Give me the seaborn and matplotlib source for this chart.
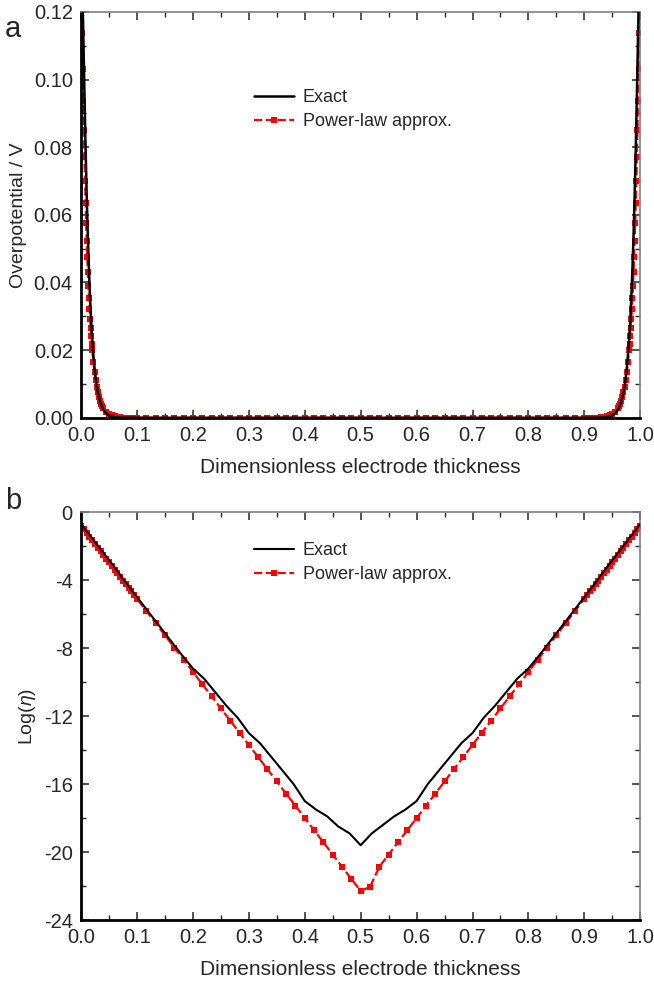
import matplotlib
matplotlib.use("Agg")
import matplotlib.pyplot as plt
import seaborn as sns
from matplotlib.ticker import MultipleLocator, FormatStrFormatter

# ---- panel a : overpotential (V) vs dimensionless thickness ----
# power-law approx, dense points near the two electrode faces
xa_left = [0.000, 0.001, 0.002, 0.003, 0.004, 0.005, 0.006, 0.007, 0.008, 0.009, 0.010,
           0.011, 0.012, 0.013, 0.014, 0.015, 0.016, 0.017, 0.018, 0.019, 0.020,
           0.022, 0.024, 0.026, 0.028, 0.030, 0.032, 0.034, 0.036, 0.038, 0.040,
           0.045, 0.050, 0.055, 0.060, 0.070, 0.080, 0.090, 0.100]
eta_approx_left = [0.1380, 0.1253, 0.1137, 0.1032, 0.0937, 0.0850, 0.0772, 0.0700, 0.0636, 0.0577, 0.0524,
                   0.0475, 0.0431, 0.0391, 0.0355, 0.0322, 0.0293, 0.0266, 0.0241, 0.0219, 0.0199,
                   0.0164, 0.0135, 0.0111, 0.0092, 0.0075, 0.0062, 0.0051, 0.0042, 0.0035, 0.0028,
                   0.0018, 0.0011, 0.0007, 0.0004, 0.00016, 0.00006, 0.00002, 0.00001]
xa_right = [0.900, 0.910, 0.920, 0.930, 0.940, 0.945, 0.950, 0.955, 0.960,
            0.962, 0.964, 0.966, 0.968, 0.970, 0.972, 0.974, 0.976, 0.978, 0.980,
            0.981, 0.982, 0.983, 0.984, 0.985, 0.986, 0.987, 0.988, 0.989, 0.990,
            0.991, 0.992, 0.993, 0.994, 0.995, 0.996, 0.997, 0.998, 0.999, 1.000]
eta_approx_right = [0.00001, 0.00002, 0.00006, 0.00016, 0.0004, 0.0007, 0.0011, 0.0018,
                    0.0028, 0.0035, 0.0042, 0.0051, 0.0062, 0.0075, 0.0092, 0.0111, 0.0135, 0.0164,
                    0.0199, 0.0219, 0.0241, 0.0266, 0.0293, 0.0322, 0.0355, 0.0391, 0.0431, 0.0475,
                    0.0524, 0.0577, 0.0636, 0.0700, 0.0772, 0.0850, 0.0937, 0.1032, 0.1137, 0.1253, 0.1380]

# coarse grid in the middle (shared by both panels)
x_mid = [0.1167, 0.1333, 0.15, 0.1667, 0.1833, 0.2, 0.2167, 0.2333, 0.25, 0.2667, 0.2833, 0.3,
         0.3167, 0.3333, 0.35, 0.3667, 0.3833, 0.4, 0.4167, 0.4333, 0.45, 0.4667, 0.4833, 0.5,
         0.5167, 0.5333, 0.55, 0.5667, 0.5833, 0.6, 0.6167, 0.6333, 0.65, 0.6667, 0.6833, 0.7,
         0.7167, 0.7333, 0.75, 0.7667, 0.7833, 0.8, 0.8167, 0.8333, 0.85, 0.8667, 0.8833]
eta_approx_mid = [0.0] * len(x_mid)

# exact solution, panel a
xa_exact = [0.000, 0.002, 0.004, 0.006, 0.008, 0.010, 0.012, 0.014, 0.016, 0.018, 0.020,
            0.022, 0.024, 0.026, 0.028, 0.030, 0.034, 0.038, 0.042, 0.046, 0.050,
            0.060, 0.070, 0.080, 0.100, 0.500, 0.900, 0.920, 0.930, 0.940, 0.950,
            0.954, 0.958, 0.962, 0.966, 0.970, 0.972, 0.974, 0.976, 0.978, 0.980,
            0.982, 0.984, 0.986, 0.988, 0.990, 0.992, 0.994, 0.996, 0.998, 1.000]
eta_exact = [0.160, 0.130, 0.113, 0.096, 0.080, 0.066, 0.054, 0.044, 0.0355, 0.0285, 0.0230,
             0.0185, 0.0148, 0.0118, 0.0094, 0.0075, 0.0048, 0.0030, 0.0019, 0.0012, 0.0007,
             0.0002, 0.00006, 0.00002, 0.0, 0.0, 0.0, 0.00002, 0.00006, 0.0002, 0.0007,
             0.0012, 0.0019, 0.0030, 0.0048, 0.0075, 0.0094, 0.0118, 0.0148, 0.0185, 0.0230,
             0.0285, 0.0355, 0.044, 0.054, 0.066, 0.080, 0.096, 0.113, 0.130, 0.160]

# ---- panel b : Log(eta) ----
xb_left = [0.000, 0.005, 0.010, 0.015, 0.020, 0.025, 0.030, 0.035, 0.040, 0.045, 0.050,
           0.055, 0.060, 0.065, 0.070, 0.075, 0.080, 0.085, 0.090, 0.095, 0.100]
logeta_approx_left = [-0.80, -1.02, -1.23, -1.45, -1.66, -1.88, -2.09, -2.31, -2.52, -2.74, -2.95,
                      -3.17, -3.38, -3.60, -3.81, -4.03, -4.24, -4.46, -4.67, -4.89, -5.10]
logeta_approx_mid = [-5.82, -6.53, -7.25, -7.97, -8.68, -9.40, -10.12, -10.83, -11.55, -12.27, -12.98, -13.70,
                     -14.42, -15.13, -15.85, -16.57, -17.28, -18.00, -18.72, -19.43, -20.15, -20.87, -21.58, -22.30,
                     -22.05, -20.87, -20.15, -19.43, -18.72, -18.00, -17.28, -16.57, -15.85, -15.13, -14.42, -13.70,
                     -12.98, -12.27, -11.55, -10.83, -10.12, -9.40, -8.68, -7.97, -7.25, -6.53, -5.82]
xb_right = [0.900, 0.905, 0.910, 0.915, 0.920, 0.925, 0.930, 0.935, 0.940, 0.945, 0.950,
            0.955, 0.960, 0.965, 0.970, 0.975, 0.980, 0.985, 0.990, 0.995, 1.000]
logeta_approx_right = [-5.10, -4.89, -4.67, -4.46, -4.24, -4.03, -3.81, -3.60, -3.38, -3.17, -2.95,
                       -2.74, -2.52, -2.31, -2.09, -1.88, -1.66, -1.45, -1.23, -1.02, -0.80]

xb_exact = [0.00, 0.02, 0.04, 0.06, 0.08, 0.10, 0.12, 0.14, 0.16, 0.18, 0.20, 0.22, 0.24,
            0.26, 0.28, 0.30, 0.32, 0.34, 0.36, 0.38, 0.40, 0.42, 0.44, 0.46, 0.48, 0.50,
            0.52, 0.54, 0.56, 0.58, 0.60, 0.62, 0.64, 0.66, 0.68, 0.70, 0.72, 0.74, 0.76,
            0.78, 0.80, 0.82, 0.84, 0.86, 0.88, 0.90, 0.92, 0.94, 0.96, 0.98, 1.00]
logeta_exact = [-0.70, -1.55, -2.40, -3.25, -4.15, -5.00, -5.85, -6.70, -7.55, -8.40, -9.20, -9.80, -10.60,
                -11.40, -12.10, -13.00, -13.60, -14.40, -15.20, -16.00, -17.00, -17.50, -17.90, -18.50, -18.90, -19.60,
                -18.90, -18.40, -17.90, -17.50, -17.00, -16.00, -15.20, -14.40, -13.60, -13.00, -12.10, -11.40, -10.60,
                -9.80, -9.20, -8.40, -7.55, -6.70, -5.85, -5.00, -4.15, -3.25, -2.40, -1.55, -0.70]

sns.set_style("ticks")
plt.rcParams['font.family'] = ['Liberation Sans', 'DejaVu Sans']
plt.rcParams['axes.unicode_minus'] = False
plt.rcParams['mathtext.fontset'] = 'custom'
plt.rcParams['mathtext.it'] = 'Liberation Sans:italic'
plt.rcParams['mathtext.rm'] = 'Liberation Sans'

fig = plt.figure(figsize=(6.54, 9.9), dpi=100)
ax_a = fig.add_axes([0.124, 0.578, 0.855, 0.410])
ax_b = fig.add_axes([0.124, 0.0707, 0.855, 0.412])

red_kw = dict(color='#ff0000', linestyle='--', linewidth=1.6, marker='s', markersize=4.2,
              markeredgewidth=0, dashes=(8, 2.5))

# panel a
xa_approx = xa_left + x_mid + xa_right
eta_approx = eta_approx_left + eta_approx_mid + eta_approx_right
sns.lineplot(x=xa_approx, y=eta_approx, ax=ax_a, sort=False, estimator=None,
             label='Power-law approx.', zorder=2, **red_kw)
sns.lineplot(x=xa_exact, y=eta_exact, ax=ax_a, sort=False, estimator=None,
             color='black', linewidth=1.8, label='Exact', zorder=3)

# panel b
xb_approx = xb_left + x_mid + xb_right
logeta_approx = logeta_approx_left + logeta_approx_mid + logeta_approx_right
sns.lineplot(x=xb_approx, y=logeta_approx, ax=ax_b, sort=False, estimator=None,
             label='Power-law approx.', zorder=2, **red_kw)
sns.lineplot(x=xb_exact, y=logeta_exact, ax=ax_b, sort=False, estimator=None,
             color='black', linewidth=1.5, label='Exact', zorder=3)

ax_a.set_xlim(0, 1)
ax_a.set_ylim(0, 0.12)
ax_a.yaxis.set_major_locator(MultipleLocator(0.02))
ax_a.yaxis.set_minor_locator(MultipleLocator(0.01))
ax_a.yaxis.set_major_formatter(FormatStrFormatter('%.2f'))
ax_a.set_ylabel('Overpotential / V', fontsize=14, labelpad=5)

ax_b.set_xlim(0, 1)
ax_b.set_ylim(-24, 0)
ax_b.yaxis.set_major_locator(MultipleLocator(4))
ax_b.yaxis.set_minor_locator(MultipleLocator(2))
ax_b.yaxis.set_major_formatter(FormatStrFormatter('%d'))
ax_b.set_ylabel('Log($\\it{\\eta}$)', fontsize=14, labelpad=4)

for ax in (ax_a, ax_b):
    ax.xaxis.set_major_locator(MultipleLocator(0.1))
    ax.xaxis.set_minor_locator(MultipleLocator(0.05))
    ax.xaxis.set_major_formatter(FormatStrFormatter('%.1f'))
    ax.set_xlabel('Dimensionless electrode thickness', fontsize=15, labelpad=9)
    ax.tick_params(which='both', direction='in', top=True, right=True, labelsize=14.5)
    ax.tick_params(axis='x', pad=6)
    ax.tick_params(axis='y', pad=6)
    ax.tick_params(which='major', length=6, width=1.1)
    ax.tick_params(which='minor', length=3.5, width=1.0)
    for side in ('left', 'bottom'):
        ax.spines[side].set_color('black')
        ax.spines[side].set_linewidth(2.0)
    for side in ('top', 'right'):
        ax.spines[side].set_visible(True)
        ax.spines[side].set_color('#808080')
        ax.spines[side].set_linewidth(1.2)
    handles, labels = ax.get_legend_handles_labels()
    order = [labels.index('Exact'), labels.index('Power-law approx.')]
    ax.legend([handles[i] for i in order], [labels[i] for i in order],
              loc='upper left', frameon=False, fontsize=13, handlelength=2.2,
              handletextpad=0.5, labelspacing=0.4)

ax_a.get_legend().set_bbox_to_anchor((0.28, 0.85))
ax_b.get_legend().set_bbox_to_anchor((0.28, 0.967))

fig.text(0.008, 0.985, 'a', fontsize=21, va='top')
fig.text(0.008, 0.508, 'b', fontsize=21, va='top')

fig.savefig('out.png', dpi=100)
